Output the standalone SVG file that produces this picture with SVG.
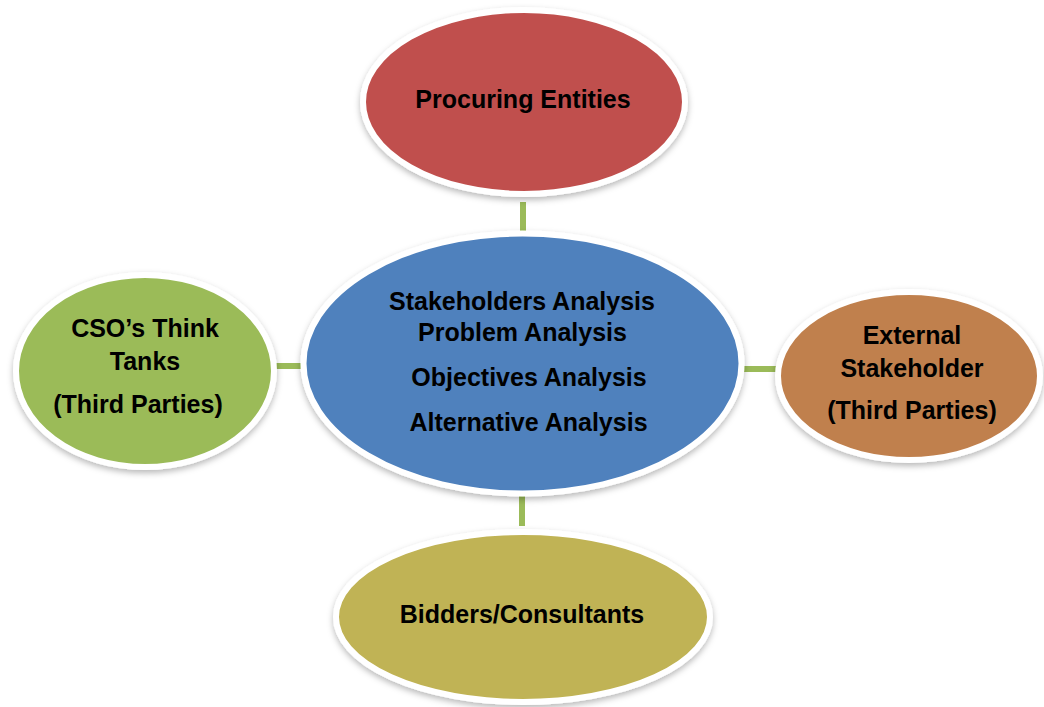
<svg xmlns="http://www.w3.org/2000/svg" width="1044" height="707" viewBox="0 0 1044 707">
  <defs>
    <filter id="sh" x="-10%" y="-10%" width="120%" height="125%">
      <feDropShadow dx="0" dy="3" stdDeviation="3" flood-color="#000" flood-opacity="0.28"/>
    </filter>
  </defs>
  <style>
    .node ellipse { stroke: #ffffff; stroke-width: 6; filter: url(#sh); }
    .lbl { font-family: "Liberation Sans", Arial, sans-serif; font-weight: bold; font-size: 25px; fill: #000; text-anchor: middle; }
    .conn line { stroke: #9bbb59; stroke-width: 6; }
  </style>
  <rect width="1044" height="707" fill="#ffffff"/>
  <g id="connectors" class="conn">
    <line x1="523" y1="202" x2="523" y2="232"/>
    <line x1="274" y1="366" x2="304" y2="366"/>
    <line x1="740" y1="369" x2="778" y2="369"/>
    <line x1="522" y1="492" x2="522" y2="526"/>
  </g>
  <g id="procuring" class="node">
    <ellipse cx="524" cy="102" rx="161" ry="92" fill="#c0504d"/>
    <text class="lbl" x="523" y="108">Procuring Entities</text>
  </g>
  <g id="center" class="node">
    <ellipse cx="522.5" cy="363.5" rx="219" ry="130" fill="#4f81bd"/>
    <text class="lbl" x="522" y="310">Stakeholders Analysis</text>
    <text class="lbl" x="522.5" y="341">Problem Analysis</text>
    <text class="lbl" x="529" y="386">Objectives Analysis</text>
    <text class="lbl" x="528.5" y="431">Alternative Analysis</text>
  </g>
  <g id="cso" class="node">
    <ellipse cx="145" cy="371" rx="129" ry="96" fill="#9bbb59"/>
    <text class="lbl" x="145" y="337">CSO’s Think</text>
    <text class="lbl" x="145" y="370">Tanks</text>
    <text class="lbl" x="138" y="413">(Third Parties)</text>
  </g>
  <g id="external" class="node">
    <ellipse cx="909" cy="376" rx="131" ry="84" fill="#c0804d"/>
    <text class="lbl" x="912" y="344">External</text>
    <text class="lbl" x="912" y="377">Stakeholder</text>
    <text class="lbl" x="912" y="419">(Third Parties)</text>
  </g>
  <g id="bidders" class="node">
    <ellipse cx="523" cy="617" rx="187" ry="85" fill="#c0b354"/>
    <text class="lbl" x="522" y="623">Bidders/Consultants</text>
  </g>
</svg>
